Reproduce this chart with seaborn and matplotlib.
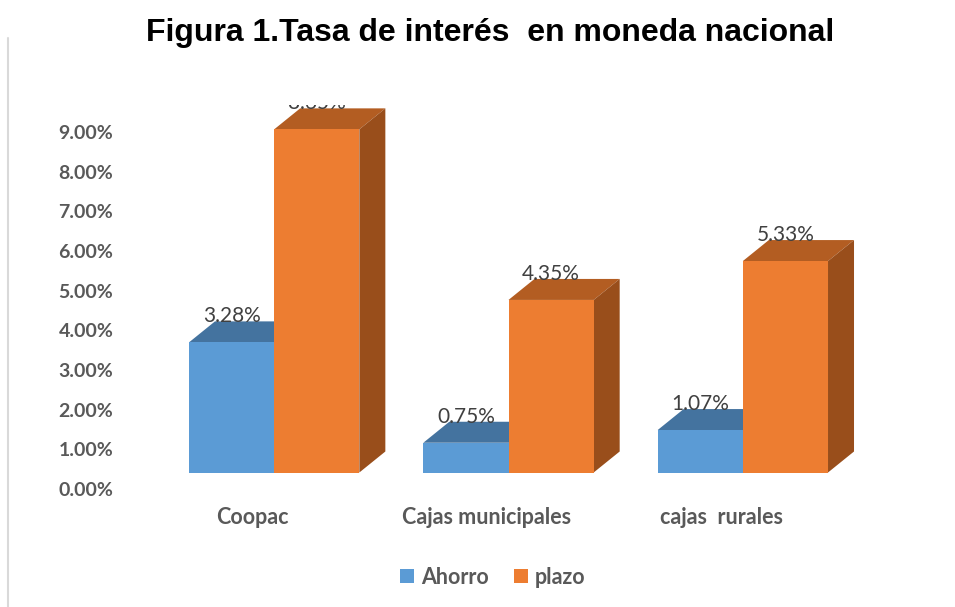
import pandas as pd
import seaborn as sns
import matplotlib.pyplot as plt
import matplotlib.transforms as mtransforms
from matplotlib.patches import Polygon, Patch
from matplotlib.lines import Line2D

categorias = ["Coopac", "Cajas municipales", "cajas  rurales"]
series = ["Ahorro", "plazo"]
ahorro = [3.28, 0.75, 1.07]
plazo = [8.65, 4.35, 5.33]
yticks = [0, 1, 2, 3, 4, 5, 6, 7, 8, 9]

df = pd.DataFrame({
    "categoria": categorias * 2,
    "serie": [series[0]] * len(ahorro) + [series[1]] * len(plazo),
    "valor": ahorro + plazo,
})

# front / top / side shades for the fake 3D look
front = ["#5B9BD5", "#ED7D31"]
top = ["#44739F", "#B35D22"]
side = ["#3A6489", "#994E1B"]
gris = "#595959"

sns.set_style("white")
plt.rcParams["font.family"] = ["Lato", "DejaVu Sans"]

W, H = 955, 607
fig = plt.figure(figsize=(W / 100, H / 100), dpi=100)
# plot area in pixels: left 157, right 860, top 105, bottom 489
ax = fig.add_axes([157 / W, (H - 489) / H, (860 - 157) / W, (489 - 105) / H])

sns.barplot(data=df, x="categoria", y="valor", hue="serie", palette=front,
            saturation=1, width=0.727, linewidth=0, legend=False, ax=ax)
ax.set_xlim(-0.5, 2.5)
ax.set_ylim(0, 9.68)

# pixel -> data conversions for the depth offsets
ppx = (860 - 157) / 3.0
ppy = (489 - 105) / 9.68
base = 16.5 / ppy
dx = 26 / ppx
dy = 21 / ppy

for i, cont in enumerate(ax.containers):
    for bar in cont:
        x0, w, h = bar.get_x(), bar.get_width(), bar.get_height()
        bar.set_y(base)
        bar.set_zorder(3)
        yt = base + h
        ax.add_patch(Polygon([(x0, yt), (x0 + w, yt), (x0 + w + dx, yt + dy), (x0 + dx, yt + dy)],
                             closed=True, facecolor=top[i], edgecolor="none", zorder=2))
        ax.add_patch(Polygon([(x0 + w, base), (x0 + w + dx, base + dy), (x0 + w + dx, yt + dy), (x0 + w, yt)],
                             closed=True, facecolor=side[i], edgecolor="none", zorder=2))
        ax.text(x0 + w / 2, yt + dy + 5 / ppy, f"{h:.2f}%", ha="center", va="center",
                fontsize=15, color="#404040", clip_on=True, zorder=4)

ax.set_yticks(yticks)
ax.set_yticklabels([f"{v:.2f}%" for v in yticks], fontsize=14, fontweight="bold", color=gris)
ax.set_xticks(range(len(categorias)))
ax.set_xticklabels(categorias, fontsize=15.5, fontweight="bold", color=gris)
ax.tick_params(axis="y", length=0, pad=31.5)
ax.tick_params(axis="x", length=0, pad=13)
shift = mtransforms.ScaledTranslation(-21.5 / 100, 0, fig.dpi_scale_trans)
for lab in ax.get_xticklabels():
    lab.set_transform(lab.get_transform() + shift)
ax.set_xlabel("")
ax.set_ylabel("")
for s in ax.spines.values():
    s.set_visible(False)

handles = [Patch(facecolor=c, edgecolor="none") for c in front]
ax.legend(handles, series, loc="center", bbox_to_anchor=((493 - 157) / 703, (489 - 577) / 384),
          ncol=2, frameon=False, handlelength=0.65, handleheight=0.65, handletextpad=0.3,
          columnspacing=1.2, prop={"family": "Lato", "weight": "bold", "size": 15.5},
          labelcolor=gris)

fig.text(490 / W, (H - 41) / H, "Figura 1.Tasa de interés  en moneda nacional",
         ha="center", va="baseline", fontsize=23, fontweight="bold",
         family="Liberation Sans", color="black")
fig.add_artist(Line2D([8 / W, 8 / W], [0, (H - 38) / H], color="#D9D9D9", lw=1.5))

fig.savefig("out.png", dpi=100)
